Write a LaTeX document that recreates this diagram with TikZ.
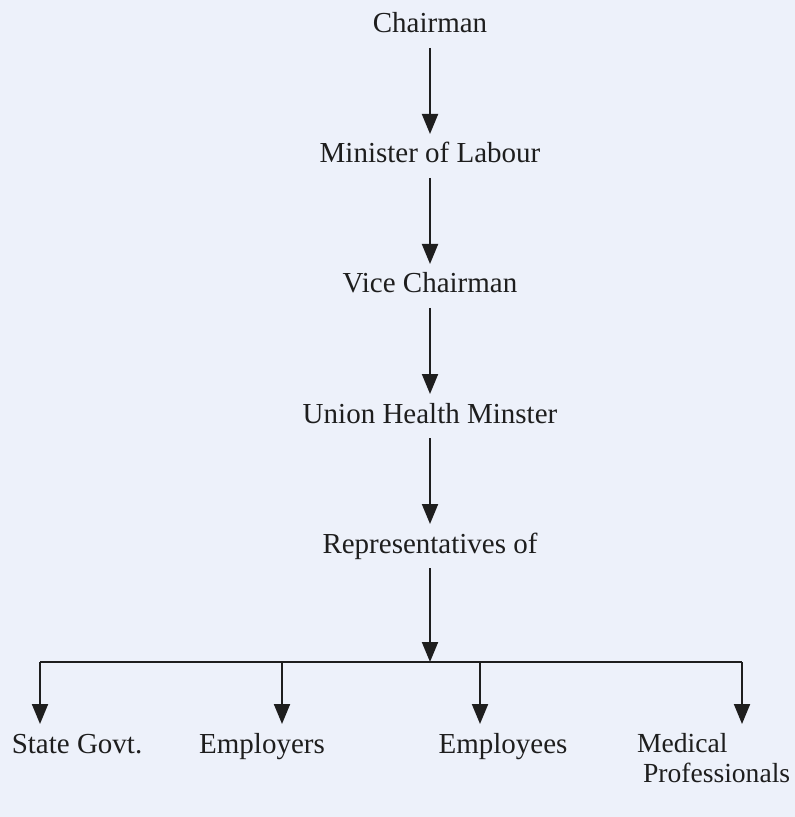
\documentclass[tikz,border=0pt]{standalone}
\usepackage{fontspec}
\setmainfont{Liberation Serif}
\usetikzlibrary{positioning,arrows.meta}

\definecolor{paper}{RGB}{237,241,250}
\definecolor{ink}{RGB}{30,30,30}

\tikzset{
    lbl/.style={inner sep=4pt, font=\fontsize{14.5}{15}\selectfont},
    post/.style={lbl, text height=10pt, text depth=3pt}
}

\begin{document}
\begin{tikzpicture}[>={Triangle[length=10pt,width=8pt]}, line width=1pt, color=ink, node distance=65pt, on grid]

    % sheet
    \fill[paper] (0,0) rectangle (397.5pt,-408.5pt);
    \useasboundingbox (0,0) rectangle (397.5pt,-408.5pt);

    % the chain of offices
    \node[post] (chair) at (215pt,-13pt) {Chairman};
    \node[post] (labour) [below=of chair] {Minister of Labour};
    \node[post] (vice) [below=of labour] {Vice Chairman};
    \node[post] (health) [below=of vice] {Union Health Minster};
    \node[post] (reps) [below=of health] {Representatives of};

    \path[->]
        (chair) edge (labour)
        (labour) edge (vice)
        (vice) edge (health)
        (health) edge (reps);

    % the bar and its drops
    \coordinate (hub) at (215pt,-331pt);
    \coordinate (d1) at (20pt,-331pt);
    \coordinate (d2) at (141pt,-331pt);
    \coordinate (d3) at (240pt,-331pt);
    \coordinate (d4) at (371pt,-331pt);

    \draw[->] (reps) -- (hub);
    \draw (d1) -- (d4);

    % groups represented
    \node[post, anchor=base] (state) at (38.5pt,-376.5pt) {State Govt.};
    \node[post, anchor=base] (emprs) at (131pt,-376.5pt) {Employers};
    \node[post, anchor=base] (empes) at (251.5pt,-376.5pt) {Employees};
    \node[lbl, font=\fontsize{13.8}{15}\selectfont, align=left, anchor=north west] (med) at (314pt,-362pt) {Medical\\\hspace*{3pt}Professionals};

    \draw[->] (d1) -- (d1 |- state.north);
    \draw[->] (d2) -- (d2 |- emprs.north);
    \draw[->] (d3) -- (d3 |- empes.north);
    \draw[->] (d4) -- (d4 |- med.north);

\end{tikzpicture}
\end{document}
